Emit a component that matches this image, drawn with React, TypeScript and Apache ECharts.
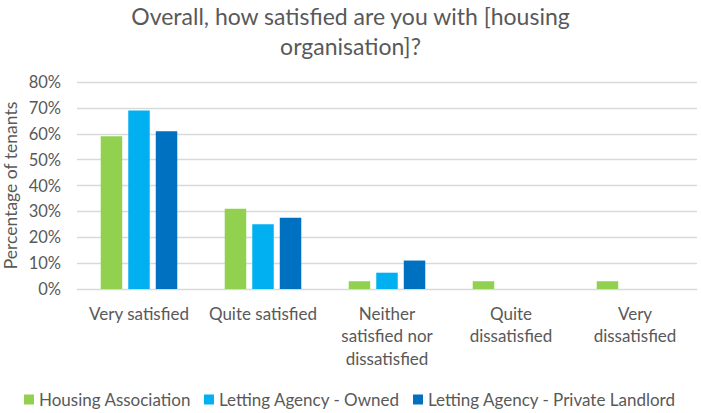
import React, { useEffect, useRef } from "react";
import * as echarts from "echarts";

const categories = [
  "Very satisfied",
  "Quite satisfied",
  "Neither\nsatisfied nor\ndissatisfied",
  "Quite\ndissatisfied",
  "Very\ndissatisfied",
];
const seriesNames = [
  "Housing Association",
  "Letting Agency - Owned",
  "Letting Agency - Private Landlord",
];
const housingAssociation = [59, 31, 3, 3, 3];
const lettingOwned = [69, 25, 6.3, 0, 0];
const lettingPrivate = [61, 27.5, 11, 0, 0];
const yTicks = [0, 10, 20, 30, 40, 50, 60, 70, 80];

const colors = ["#92D050", "#00B0F0", "#0070C0"];
const FONT = "Lato, 'Open Sans', sans-serif";

export default function App() {
  const ref = useRef<HTMLDivElement>(null);
  useEffect(() => {
    if (!ref.current) return;
    const chart = echarts.init(ref.current, null, { renderer: "svg" });
    const values = [housingAssociation, lettingOwned, lettingPrivate];
    chart.setOption({
      animation: false,
      backgroundColor: "#ffffff",
      textStyle: { fontFamily: FONT },
      title: {
        text: "Overall, how satisfied are you with [housing\norganisation]?",
        left: "center",
        top: -1,
        padding: [2, 17, 2, 5],
        textStyle: {
          fontFamily: FONT,
          fontSize: 23,
          fontWeight: "normal",
          color: "#595959",
          lineHeight: 30,
        },
      },
      grid: {
        left: 77,
        right: 4,
        top: 82,
        bottom: 124,
        containLabel: false,
        outerBoundsMode: "none",
      },
      legend: {
        data: seriesNames,
        left: 24,
        top: 391,
        padding: 0,
        icon: "rect",
        itemWidth: 10,
        itemHeight: 10,
        itemGap: 13,
        textStyle: { fontFamily: FONT, fontSize: 17, color: "#595959" },
      },
      xAxis: {
        type: "category",
        data: categories,
        axisLine: { lineStyle: { color: "#d9d9d9" } },
        axisTick: { show: false },
        axisLabel: {
          interval: 0,
          fontFamily: FONT,
          fontSize: 17,
          color: "#595959",
          lineHeight: 22.5,
          margin: 13,
        },
      },
      yAxis: {
        type: "value",
        min: yTicks[0],
        max: yTicks[yTicks.length - 1],
        interval: 10,
        name: "Percentage of tenants",
        nameLocation: "middle",
        nameGap: 58,
        nameMoveOverlap: false,
        nameTextStyle: { fontFamily: FONT, fontSize: 17.5, color: "#595959" },
        axisLabel: {
          formatter: (v: number) => v + "%",
          fontFamily: FONT,
          fontSize: 16.5,
          color: "#595959",
          margin: 16,
        },
        splitLine: { lineStyle: { color: "#d9d9d9", width: 1.3 } },
        axisLine: { show: false },
        axisTick: { show: false },
      },
      series: seriesNames.map((name, i) => ({
        name,
        type: "bar",
        data: values[i],
        barWidth: 21.5,
        barGap: "28%",
        itemStyle: { color: colors[i] },
      })),
    });
    return () => chart.dispose();
  }, []);
  return (
    <div
      ref={ref}
      style={{ position: "absolute", left: 0, top: 0, width: 701, height: 413 }}
    />
  );
}
